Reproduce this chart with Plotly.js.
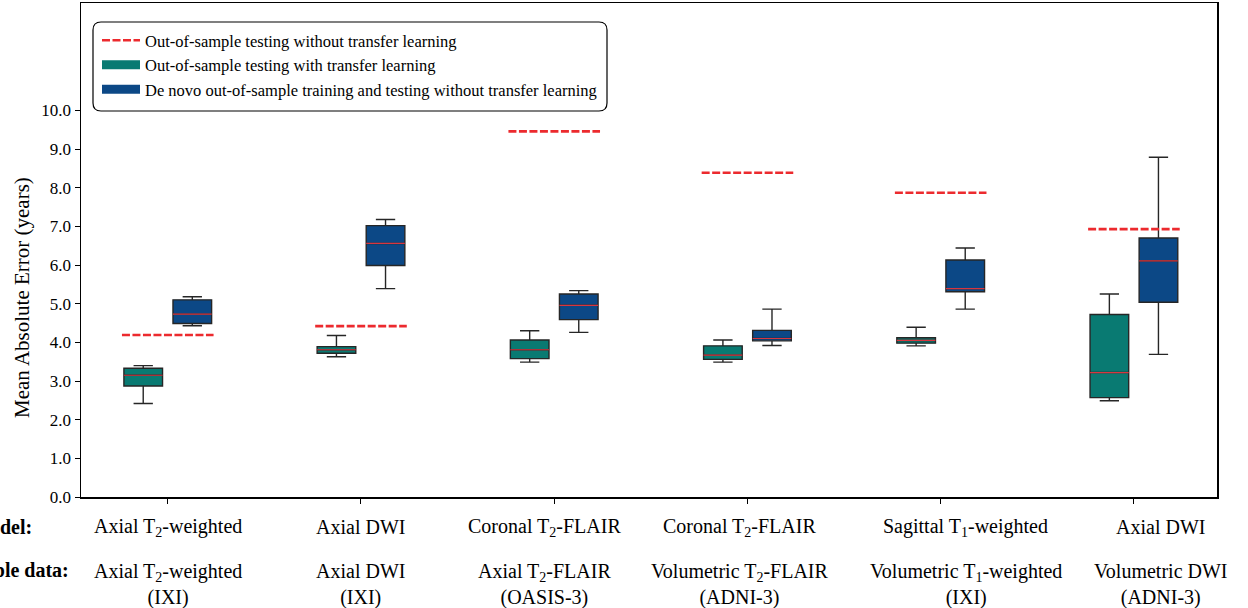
<!DOCTYPE html>
<html>
<head>
<meta charset="utf-8">
<script src="https://cdn.plot.ly/plotly-3.0.1.min.js"></script>
<style>html,body{margin:0;padding:0;background:#fff;}#chart{width:1248px;height:608px;}</style>
</head>
<body>
<div id="chart"></div>
<script>
// ---- data ----
const modelLabels = ["Axial T<sub>2</sub>-weighted", "Axial DWI", "Coronal T<sub>2</sub>-FLAIR", "Coronal T<sub>2</sub>-FLAIR", "Sagittal T<sub>1</sub>-weighted", "Axial DWI"];
const dataLabels = ["Axial T<sub>2</sub>-weighted", "Axial DWI", "Axial T<sub>2</sub>-FLAIR", "Volumetric T<sub>2</sub>-FLAIR", "Volumetric T<sub>1</sub>-weighted", "Volumetric DWI"];
const datasets = ["IXI", "IXI", "OASIS-3", "ADNI-3", "IXI", "ADNI-3"];

const noTransfer = [4.19, 4.42, 9.46, 8.39, 7.87, 6.93];

const tlLow    = [2.42, 3.63, 3.49, 3.49, 3.91, 2.49];
const tlQ1     = [2.87, 3.72, 3.58, 3.56, 3.98, 2.57];
const tlMedian = [3.15, 3.81, 3.81, 3.67, 4.05, 3.22];
const tlQ3     = [3.33, 3.89, 4.06, 3.91, 4.12, 4.72];
const tlHigh   = [3.40, 4.18, 4.30, 4.06, 4.39, 5.25];

const dnLow    = [4.43, 5.39, 4.26, 3.92, 4.86, 3.69];
const dnQ1     = [4.49, 5.99, 4.59, 4.04, 5.31, 5.04];
const dnMedian = [4.73, 6.56, 4.96, 4.10, 5.39, 6.11];
const dnQ3     = [5.10, 7.02, 5.25, 4.31, 6.13, 6.70];
const dnHigh   = [5.18, 7.18, 5.34, 4.86, 6.44, 8.79];

const yTicks = [0,1,2,3,4,5,6,7,8,9,10];

// ---- layout helpers ----
const groupPos = modelLabels.map((_, i) => i + 1);
const OFF = 0.127, BW = 0.2, DASH_HALF = 0.237;
const labelShift = [0.0, 0.0, -0.05, -0.04, 0.13, 0.14];
const teal = '#097a72', blue = '#0c4886', red = '#ec2a2e', medC = '#d8363f';
const FONT = 'Liberation Serif, Times New Roman, serif';

const tlPos = groupPos.map(g => g - OFF);
const dnPos = groupPos.map(g => g + OFF);

function medianLine(pos, med) {
  const x = [], y = [];
  pos.forEach((p, i) => { x.push(p - BW/2, p + BW/2, null); y.push(med[i], med[i], null); });
  return {x, y};
}
const dashX = [], dashY = [];
groupPos.forEach((g, i) => { dashX.push(g - DASH_HALF, g + DASH_HALF, null); dashY.push(noTransfer[i], noTransfer[i], null); });
const mTL = medianLine(tlPos, tlMedian), mDN = medianLine(dnPos, dnMedian);

const boxCommon = {type: 'box', width: BW, whiskerwidth: 0.5, boxpoints: false,
  line: {color: '#262626', width: 1.4}, hoverinfo: 'skip', showlegend: false};

const traces = [
  Object.assign({}, boxCommon, {x: tlPos, q1: tlQ1, median: tlMedian, q3: tlQ3, lowerfence: tlLow, upperfence: tlHigh, fillcolor: teal}),
  Object.assign({}, boxCommon, {x: dnPos, q1: dnQ1, median: dnMedian, q3: dnQ3, lowerfence: dnLow, upperfence: dnHigh, fillcolor: blue}),
  {type: 'scatter', mode: 'lines', x: mTL.x, y: mTL.y, line: {color: medC, width: 1.2}, showlegend: false, hoverinfo: 'skip'},
  {type: 'scatter', mode: 'lines', x: mDN.x, y: mDN.y, line: {color: medC, width: 1.2}, showlegend: false, hoverinfo: 'skip'},
  {type: 'scatter', mode: 'lines', x: dashX, y: dashY, line: {color: red, width: 2.6, dash: '8px,2.5px'},
   name: 'Out-of-sample testing without transfer learning', hoverinfo: 'skip'},
  {type: 'scatter', mode: 'lines', x: [null], y: [null], line: {color: teal, width: 9},
   name: 'Out-of-sample testing with transfer learning'},
  {type: 'scatter', mode: 'lines', x: [null], y: [null], line: {color: blue, width: 9},
   name: 'De novo out-of-sample training and testing without transfer learning'}
];

const L = 81, R = 31, T = 3, B = 111, W = 1248, H = 608;
const pw = W - L - R, ph = H - T - B;
const px = p => (p - L) / pw;
const py = p => (H - B - p) / ph;

const annotations = [];
groupPos.forEach((g, i) => {
  annotations.push({xref: 'x', yref: 'paper', x: g + labelShift[i], y: py(527), text: modelLabels[i],
    showarrow: false, xanchor: 'center', yanchor: 'middle', font: {family: FONT, size: 20, color: '#000'}});
  annotations.push({xref: 'x', yref: 'paper', x: g + labelShift[i], y: py(584), text: dataLabels[i] + '<br>(' + datasets[i] + ')',
    showarrow: false, xanchor: 'center', yanchor: 'middle', font: {family: FONT, size: 20, color: '#000'}});
});
annotations.push({xref: 'paper', yref: 'paper', x: px(34), y: py(527), text: '<b>Model:</b>', showarrow: false,
  xanchor: 'right', yanchor: 'middle', font: {family: FONT, size: 20, color: '#000'}});
annotations.push({xref: 'paper', yref: 'paper', x: px(71), y: py(570), text: '<b>Out-of-sample data:</b>', showarrow: false,
  xanchor: 'right', yanchor: 'middle', font: {family: FONT, size: 20, color: '#000'}});
annotations.push({xref: 'paper', yref: 'paper', x: px(22), y: py(298), text: 'Mean Absolute Error (years)', showarrow: false,
  textangle: -90, xanchor: 'center', yanchor: 'middle', font: {family: FONT, size: 21, color: '#000'}});

// rounded legend frame
const x0 = px(93), x1 = px(607), y0 = py(111), y1 = py(22);
const rx = 8 / pw, ry = 8 / ph;
const framePath = `M ${x0+rx},${y0} L ${x1-rx},${y0} Q ${x1},${y0} ${x1},${y0+ry} L ${x1},${y1-ry} Q ${x1},${y1} ${x1-rx},${y1} ` +
  `L ${x0+rx},${y1} Q ${x0},${y1} ${x0},${y1-ry} L ${x0},${y0+ry} Q ${x0},${y0} ${x0+rx},${y0} Z`;

const layout = {
  width: W, height: H,
  margin: {l: L, r: R, t: T, b: B, pad: 0},
  paper_bgcolor: '#fff', plot_bgcolor: '#fff',
  font: {family: FONT, color: '#000'},
  boxmode: 'overlay',
  showlegend: true,
  legend: {x: px(97), y: py(23), xanchor: 'left', yanchor: 'top', bgcolor: 'rgba(0,0,0,0)', borderwidth: 0,
    font: {family: FONT, size: 16.5, color: '#000'}, traceorder: 'normal', itemwidth: 38},
  xaxis: {range: [0.551, 6.43], tickvals: groupPos, showticklabels: false, ticks: 'outside', ticklen: 5,
    tickcolor: '#000', showline: true, linecolor: '#000', linewidth: 1.5, mirror: true, showgrid: false, zeroline: false},
  yaxis: {range: [0, 12.78], tickvals: yTicks, tickformat: '.1f', ticks: 'outside', ticklen: 5, tickcolor: '#000',
    tickfont: {family: FONT, size: 17, color: '#000'}, showline: true, linecolor: '#000', linewidth: 1.5, mirror: true,
    showgrid: false, zeroline: false},
  annotations: annotations,
  shapes: [{type: 'path', xref: 'paper', yref: 'paper', path: framePath, line: {color: '#000', width: 1.2}, fillcolor: 'rgba(0,0,0,0)', layer: 'above'}]
};

Plotly.newPlot('chart', traces, layout, {displayModeBar: false, staticPlot: true});
</script>
</body>
</html>
